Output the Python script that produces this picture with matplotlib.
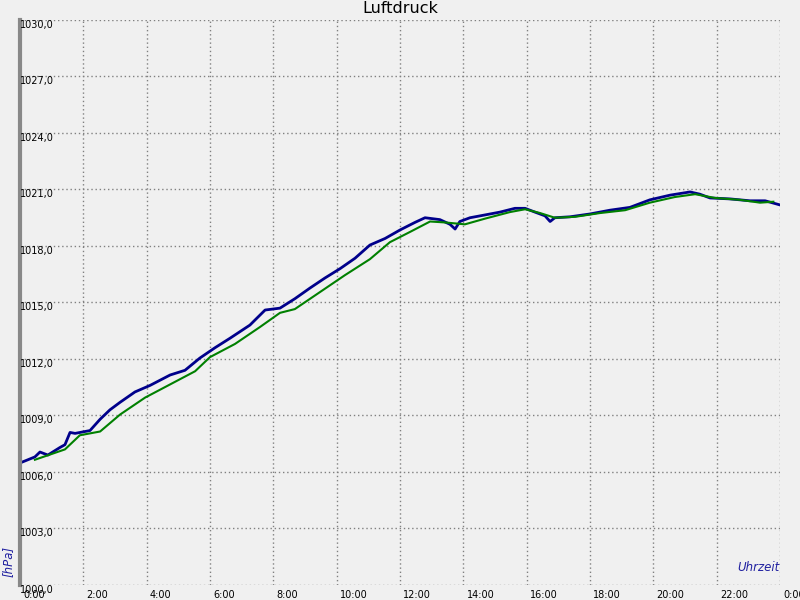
import numpy as np
from matplotlib import pyplot
from matplotlib.transforms import blended_transform_factory

# Zeit in Stunden, Druck in hPa
blue_time = [0.0, 0.47, 0.63, 0.88, 1.26, 1.42, 1.58, 1.74, 2.21, 2.53, 2.84, 3.16, 3.63, 4.11,
             4.74, 5.21, 5.68, 6.16, 6.63, 7.26, 7.74, 8.21, 8.68, 9.16, 9.63, 10.11, 10.58,
             11.05, 11.53, 12.0, 12.47, 12.79, 13.26, 13.58, 13.74, 13.89, 14.21, 14.53,
             15.16, 15.63, 15.95, 16.26, 16.58, 16.74, 16.89, 17.37, 18.0, 18.63, 19.26,
             19.89, 20.53, 21.16, 21.47, 21.79, 22.42, 23.05, 23.53, 24.0]
blue_hpa = [1006.48, 1006.8, 1007.06, 1006.9, 1007.3, 1007.45, 1008.1, 1008.05, 1008.2, 1008.8,
            1009.3, 1009.7, 1010.25, 1010.6, 1011.15, 1011.4, 1012.05, 1012.6, 1013.1, 1013.8,
            1014.6, 1014.7, 1015.2, 1015.77, 1016.3, 1016.8, 1017.35, 1018.05, 1018.4, 1018.85,
            1019.25, 1019.5, 1019.4, 1019.15, 1018.9, 1019.3, 1019.5, 1019.6, 1019.8, 1020.0,
            1020.0, 1019.8, 1019.6, 1019.3, 1019.5, 1019.55, 1019.7, 1019.9, 1020.05, 1020.45,
            1020.7, 1020.87, 1020.75, 1020.55, 1020.5, 1020.4, 1020.4, 1020.18]

green_time = [0.47, 1.42, 1.89, 2.53, 3.16, 3.95, 4.74, 5.53, 6.0, 6.79, 7.58, 8.21, 8.68, 9.47,
              10.26, 11.05, 11.68, 12.32, 12.95, 13.42, 14.05, 14.68, 15.47, 15.95, 16.42,
              16.89, 17.53, 18.32, 19.11, 19.89, 20.68, 21.32, 21.95, 22.74, 23.37, 23.79]
green_hpa = [1006.65, 1007.2, 1007.95, 1008.15, 1009.05, 1009.95, 1010.65, 1011.35, 1012.1,
             1012.8, 1013.7, 1014.45, 1014.65, 1015.55, 1016.45, 1017.3, 1018.2, 1018.75,
             1019.3, 1019.25, 1019.15, 1019.45, 1019.8, 1019.95, 1019.75, 1019.5, 1019.55,
             1019.75, 1019.9, 1020.3, 1020.6, 1020.75, 1020.55, 1020.45, 1020.3, 1020.35]

y_ticks = np.arange(1000, 1031, 3)
x_ticks = np.arange(0, 25, 2)
x_labels = [f"{h % 24}:00" for h in x_ticks]

BG = "#f0f0f0"
BLUE = "#00008b"
GREEN = "#008000"

fig = pyplot.figure(figsize=(8, 6), dpi=100, facecolor=BG)
ax = fig.add_axes([0.025, 0.025, 0.95, 0.9417], facecolor=BG)

ax.plot(green_time, green_hpa, color=GREEN, linewidth=1.5, zorder=3)
ax.plot(blue_time, blue_hpa, color=BLUE, linewidth=2.0, zorder=2)

ax.set_xlim(0, 24)
ax.set_ylim(1000, 1030)
ax.set_xticks(x_ticks)
ax.set_yticks(y_ticks)
ax.tick_params(length=0, labelbottom=False, labelleft=False)
ax.grid(True, color="#808080", linestyle=(0, (1, 2)), linewidth=1.0)

for side in ["top", "right", "bottom"]:
    ax.spines[side].set_visible(False)
ax.spines["left"].set_color("#888888")
ax.spines["left"].set_linewidth(3)

# Beschriftung der y-Achse innerhalb des Diagramms
ytrans = blended_transform_factory(ax.transAxes, ax.transData)
for v in y_ticks:
    ax.text(0.0, v, f"{v},0", transform=ytrans, fontsize=7, va="top", ha="left",
            clip_on=False)

xtrans = blended_transform_factory(ax.transData, ax.transAxes)
for h, lab in zip(x_ticks, x_labels):
    ax.text(h + 0.1, -0.008, lab, transform=xtrans, fontsize=7, va="top", ha="left",
            clip_on=False)

fig.text(0.5, 0.986, "Luftdruck", ha="center", va="center", fontsize=11.5)
fig.text(0.01, 0.065, "[hPa]", rotation=90, color="#2020a0", style="italic",
         fontsize=8.5, ha="center", va="center")
ax.text(1.0, 0.02, "Uhrzeit", transform=ax.transAxes, color="#2020a0", style="italic",
        fontsize=8.5, ha="right", va="bottom")

fig.savefig("out.png", dpi=100, facecolor=BG)
